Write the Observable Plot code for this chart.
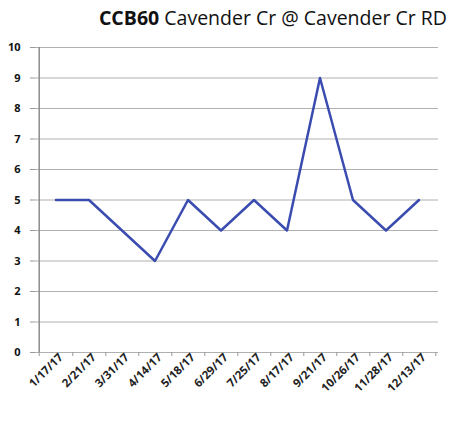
<!DOCTYPE html>
<html><head><meta charset="utf-8">
<script src="https://cdn.jsdelivr.net/npm/d3@7"></script>
<script src="https://cdn.jsdelivr.net/npm/@observablehq/plot@0.6"></script>
<style>
body{margin:0;background:#fff;font-family:"Open Sans",sans-serif;}
#title{height:36px;line-height:36px;font-size:19.5px;color:#111;text-align:right;padding-right:10px;white-space:nowrap;}
</style></head>
<body>
<div id="title"><b>CCB60</b> Cavender Cr @ Cavender Cr RD</div>
<div id="chart"></div>
<script>
const dates = ["1/17/17","2/21/17","3/31/17","4/14/17","5/18/17","6/29/17","7/25/17","8/17/17","9/21/17","10/26/17","11/28/17","12/13/17"];
const values = [5,5,4,3,5,4,5,4,9,5,4,5];
const yTicks = [0,1,2,3,4,5,6,7,8,9,10];
const data = dates.map((d,i)=>({date:d, value:values[i]}));
const half = (457 - 35 - 19) / 12 / 2;

const plot = Plot.plot({
  width: 457, height: 389,
  marginTop: 11, marginBottom: 73, marginLeft: 35, marginRight: 19,
  style: {fontFamily: "Open Sans, sans-serif", background: "#fff", color: "#111"},
  x: {type: "band", domain: dates, paddingInner: 0, paddingOuter: 0, label: null},
  y: {domain: [0,10], label: null},
  marks: [
    Plot.gridY(yTicks, {stroke: "#b0b0b0", strokeOpacity: 1, strokeWidth: 1}),
    Plot.gridX([dates[0]], {dx: -half, stroke: "#8c8c8c", strokeOpacity: 1, strokeWidth: 1.5}),
    Plot.axisY(yTicks, {tickSize: 5, tickPadding: 10, stroke: "#999999", fontSize: 11, fill: "#111", fontWeight: "bold", label: null}),
    Plot.axisX({tickSize: 0, tickPadding: 3, tickRotate: -45, fontSize: 11.5, fontWeight: "bold", fill: "#222", dx: 5, label: null}),
    Plot.axisX({tickSize: 4, tickFormat: () => "", stroke: "#999999", dx: half, label: null}),
    Plot.axisX([dates[0]], {tickSize: 4, tickFormat: () => "", stroke: "#999999", dx: -half, label: null}),
    Plot.line(data, {x: "date", y: "value", stroke: "#3b4cb0", strokeWidth: 2.5})
  ]
});
document.getElementById("chart").appendChild(plot);
</script>
</body></html>
